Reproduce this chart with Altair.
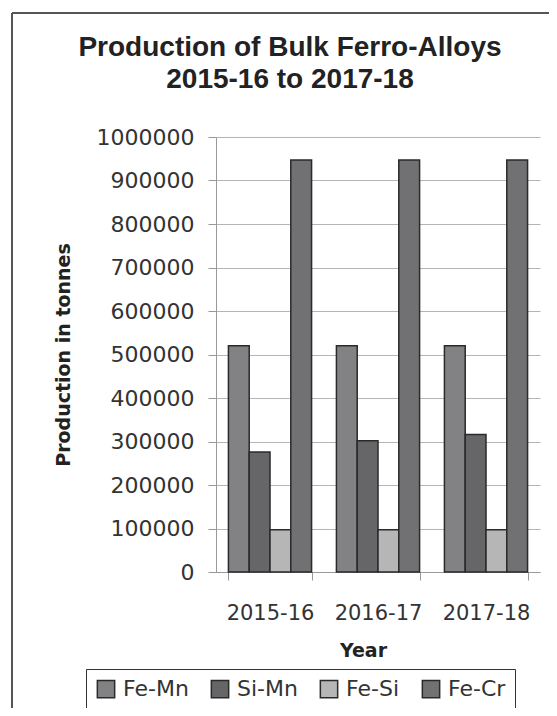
import altair as alt
import pandas as pd

years = ["2015-16", "2016-17", "2017-18"]
alloys = ["Fe-Mn", "Si-Mn", "Fe-Si", "Fe-Cr"]
fe_mn = [520000, 520000, 520000]
si_mn = [276000, 302000, 316000]
fe_si = [97000, 97000, 97000]
fe_cr = [947000, 947000, 947000]
colors = ["#828284", "#666668", "#b6b6b6", "#717173"]
y_ticks = [0, 100000, 200000, 300000, 400000, 500000, 600000, 700000, 800000, 900000, 1000000]

rows = []
for series, vals in zip(alloys, [fe_mn, si_mn, fe_si, fe_cr]):
    for yr, v in zip(years, vals):
        rows.append({"Year": yr, "Alloy": series, "Production": v})
df = pd.DataFrame(rows)

bars = alt.Chart(df).mark_bar(stroke="#2a2a2a", strokeWidth=1.5).encode(
    x=alt.X("Year:N", sort=years,
            scale=alt.Scale(paddingInner=0.23, paddingOuter=0.115),
            axis=alt.Axis(title="Year", labelAngle=0, tickBand="extent",
                          labelFont="DejaVu Sans", labelFontSize=21, labelColor="#333333",
                          labelPadding=22, tickSize=8, tickColor="#999999",
                          domainColor="#999999", grid=False,
                          titleFont="DejaVu Sans", titleFontSize=19, titleFontWeight="bold",
                          titleColor="#222222", titleX=147, titleY=84,
                          titleBaseline="alphabetic", titleAlign="center")),
    xOffset=alt.XOffset("Alloy:N", sort=alloys, scale=alt.Scale(paddingInner=0, paddingOuter=0)),
    y=alt.Y("Production:Q", scale=alt.Scale(domain=[0, 1000000], nice=False),
            axis=alt.Axis(title="Production in tonnes", values=y_ticks, format="d",
                          labelFont="DejaVu Sans", labelFontSize=22, labelColor="#333333",
                          labelPadding=14, tickSize=8, tickColor="#999999",
                          domainColor="#999999", gridColor="#b4b4b4",
                          titleFont="DejaVu Sans", titleFontSize=19, titleFontWeight="bold",
                          titleColor="#222222", titleX=-153, titleY=217.5,
                          titleAngle=270, titleBaseline="middle", titleAlign="center")),
    color=alt.Color("Alloy:N", sort=alloys,
                    scale=alt.Scale(domain=alloys, range=colors),
                    legend=alt.Legend(title=None, orient="none", legendX=-130, legendY=532,
                                      direction="horizontal", symbolType="square",
                                      symbolSize=300, symbolStrokeColor="#2a2a2a",
                                      symbolStrokeWidth=1.5, labelFont="DejaVu Sans",
                                      labelFontSize=22, labelColor="#333333",
                                      labelOffset=6, columnPadding=19, padding=9,
                                      strokeColor="#333333")),
)

frame_left = alt.Chart(pd.DataFrame({"k": [0]})).mark_rule(color="#555555", strokeWidth=2).encode(
    x=alt.value(-204), y=alt.value(-124), y2=alt.value(700))
frame_top = alt.Chart(pd.DataFrame({"k": [0]})).mark_rule(color="#555555", strokeWidth=2).encode(
    x=alt.value(-204), x2=alt.value(400), y=alt.value(-124))

chart = alt.layer(bars, frame_left, frame_top).properties(
    width=324, height=435,
    title=alt.TitleParams(["Production of Bulk Ferro-Alloys", "2015-16 to 2017-18"],
                          font="Liberation Sans", fontSize=28, fontWeight="bold",
                          color="#222222", anchor="middle", frame="group", dx=-88,
                          lineHeight=32, baseline="alphabetic", offset=-104),
    autosize=alt.AutoSizeParams(type="none"),
    padding={"left": 208, "top": 129, "right": 9, "bottom": 136},
).configure_view(stroke=None).configure_axis(gridWidth=1)

chart.save("out.html", embed_options={"renderer": "svg", "actions": False})
